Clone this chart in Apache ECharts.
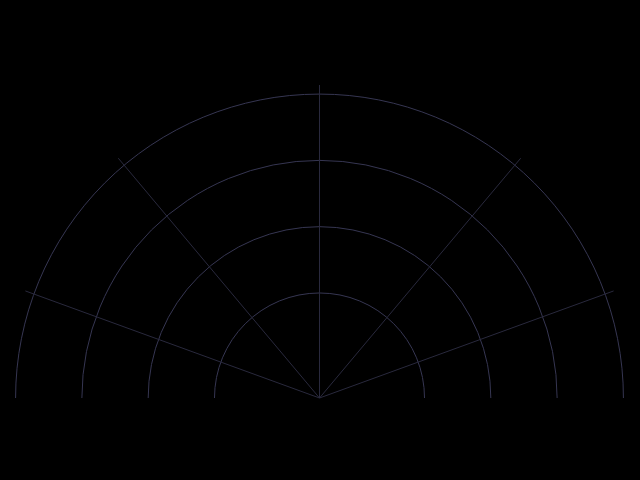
<!DOCTYPE html>
<html>
<head>
<meta charset="utf-8">
<script src="https://cdn.jsdelivr.net/npm/echarts@6/dist/echarts.min.js"></script>
<style>
  html, body { margin: 0; padding: 0; background: #000; }
  #main { width: 640px; height: 480px; }
</style>
</head>
<body>
<div id="main"></div>
<script>
// spoke directions (degrees) and ring positions
var angleTicks = [20, 50, 90, 130, 160];
var ringTicks = [1, 2, 3, 4];
var radiusMin = -0.584;
var radiusMax = 4.137;

var myChart = echarts.init(document.getElementById("main"));
myChart.setOption({
  backgroundColor: "#000",
  animation: false,
  polar: {
    center: [319.5, 398],
    radius: 313
  },
  angleAxis: {
    type: "value",
    min: 0,
    max: 180,
    startAngle: 180,
    endAngle: 0,
    axisLine: { show: false },
    axisTick: { show: false, customValues: angleTicks },
    axisLabel: { show: false, customValues: angleTicks },
    splitLine: { show: true, lineStyle: { color: "#29293d", width: 1 } }
  },
  radiusAxis: {
    type: "value",
    min: radiusMin,
    max: radiusMax,
    axisLine: { show: false },
    axisTick: { show: false, customValues: ringTicks },
    axisLabel: { show: false, customValues: ringTicks },
    splitLine: { show: true, lineStyle: { color: "#363652", width: 1 } }
  },
  series: [
    {
      type: "line",
      coordinateSystem: "polar",
      data: [],
      showSymbol: false
    }
  ]
});
</script>
</body>
</html>
